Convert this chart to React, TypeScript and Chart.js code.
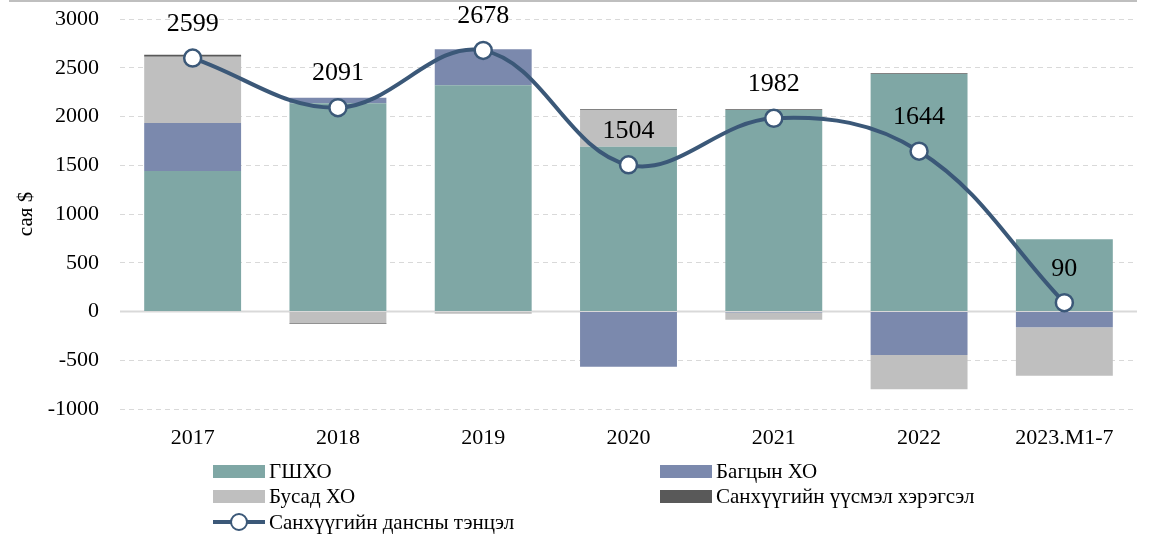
import React, { useEffect, useRef } from "react";
import { Chart, registerables } from "chart.js";

Chart.register(...registerables);

const categories = ["2017", "2018", "2019", "2020", "2021", "2022", "2023.M1-7"];
const fdi = [1441, 2135, 2320, 1690, 2067, 2436, 741];
const portfolio = [492, 58, 369, -566, -10, -446, -162];
const otherInv = [680, -121, -18, 377, -75, -352, -496];
const derivatives = [20, -6, -3, 8, 8, 8, 0];
const financialAccount = [2599, 2091, 2678, 1504, 1982, 1644, 90];
const yTicks = [-1000, -500, 0, 500, 1000, 1500, 2000, 2500, 3000];

const seriesNames = ["ГШХО", "Багцын ХО", "Бусад ХО", "Санхүүгийн үүсмэл хэрэгсэл", "Санхүүгийн дансны тэнцэл"];
const colors = ["#7fa7a5", "#7b89ad", "#bfbfbf", "#595959", "#3b5878"];

const FONT = "'Liberation Serif', 'Times New Roman', serif";

export default function App() {
  const ref = useRef<HTMLCanvasElement | null>(null);

  useEffect(() => {
    if (!ref.current) return;
    const labelPlugin = {
      id: "labelsAndZero",
      beforeDatasetsDraw(chart: any) {
        const { ctx, chartArea, scales } = chart;
        const y0 = scales.y.getPixelForValue(0);
        ctx.save();
        ctx.strokeStyle = "#d9d9d9";
        ctx.lineWidth = 2;
        ctx.beginPath();
        ctx.moveTo(chartArea.left, y0);
        ctx.lineTo(chartArea.right, y0);
        ctx.stroke();
        ctx.restore();
      },
      afterDatasetsDraw(chart: any) {
        const { ctx } = chart;
        const meta = chart.getDatasetMeta(4);
        ctx.save();
        ctx.font = `26px ${FONT}`;
        ctx.fillStyle = "#000";
        ctx.textAlign = "center";
        ctx.textBaseline = "middle";
        meta.data.forEach((pt: any, i: number) => {
          ctx.fillText(String(financialAccount[i]), pt.x, pt.y - 34);
        });
        ctx.restore();
      },
    };

    const barDs = (label: string, data: number[], color: string) => ({
      type: "bar" as const,
      label,
      data,
      backgroundColor: color,
      borderWidth: 0,
      stack: "bars",
      order: 1,
      categoryPercentage: 1,
      barPercentage: 0.667,
    });

    const chart = new Chart(ref.current, {
      data: {
        labels: categories,
        datasets: [
          barDs(seriesNames[0], fdi, colors[0]),
          barDs(seriesNames[1], portfolio, colors[1]),
          barDs(seriesNames[2], otherInv, colors[2]),
          barDs(seriesNames[3], derivatives, colors[3]),
          {
            type: "line" as const,
            label: seriesNames[4],
            data: financialAccount,
            borderColor: colors[4],
            borderWidth: 4,
            backgroundColor: "#ffffff",
            pointBackgroundColor: "#ffffff",
            pointBorderColor: colors[4],
            pointBorderWidth: 2.5,
            pointRadius: 8.5,
            tension: 0.38,
            stack: "line",
            order: 0,
          } as any,
        ],
      },
      options: {
        animation: false,
        responsive: false,
        maintainAspectRatio: false,
        layout: { autoPadding: false, padding: { top: 19, right: 12, left: 0, bottom: 90 } },
        plugins: {
          legend: { display: false },
          tooltip: { enabled: false },
        },
        scales: {
          x: {
            stacked: true,
            grid: { display: false, drawTicks: false },
            border: { display: false },
            ticks: { color: "#000", font: { family: FONT, size: 22 }, padding: 16, maxRotation: 0 },
            afterFit: (s: any) => { s.height = 38; },
          },
          y: {
            stacked: true,
            min: -1000,
            max: 3000,
            afterBuildTicks: (s: any) => { s.ticks = yTicks.map((v) => ({ value: v })); },
            grid: { color: "#d9d9d9", lineWidth: 1, drawTicks: false },
            border: { display: false, dash: [5, 4] },
            ticks: { color: "#000", font: { family: FONT, size: 22 }, padding: 21, callback: (v: any) => String(v) },
            title: { display: true, text: "сая $", color: "#000", font: { family: FONT, size: 21 }, padding: { top: 14, bottom: 0 } },
            afterFit: (s: any) => { s.width = 120; s.paddingTop = 0; s.paddingBottom = 0; },
          },
        },
      },
      plugins: [labelPlugin],
    } as any);
    return () => chart.destroy();
  }, []);

  const legendText: React.CSSProperties = { fontFamily: FONT, fontSize: 21, color: "#000", whiteSpace: "nowrap", lineHeight: "24px" };
  const item = (x: number, y: number, label: string, color: string, line = false) => (
    <div key={label} style={{ position: "absolute", left: x, top: y - 12, height: 24, display: "flex", alignItems: "center" }}>
      {line ? (
        <div style={{ position: "relative", width: 52, height: 24 }}>
          <div style={{ position: "absolute", left: 0, top: 10, width: 52, height: 4, background: color }} />
          <div style={{ position: "absolute", left: 17, top: 3, width: 14, height: 14, borderRadius: "50%", background: "#fff", border: `2.5px solid ${color}` }} />
        </div>
      ) : (
        <div style={{ width: 52, height: 13, background: color }} />
      )}
      <span style={{ ...legendText, marginLeft: 4 }}>{label}</span>
    </div>
  );

  return (
    <div style={{ position: "fixed", left: 0, top: 0, width: 1149, height: 537, background: "#fff" }}>
      <canvas ref={ref} width={1149} height={537} style={{ position: "absolute", left: 0, top: 0 }} />
      <div style={{ position: "absolute", left: 9, top: 0, width: 1128, height: 2, background: "#bfbfbf" }} />
      {item(213, 471, seriesNames[0], colors[0])}
      {item(660, 471, seriesNames[1], colors[1])}
      {item(213, 496, seriesNames[2], colors[2])}
      {item(660, 496, seriesNames[3], colors[3])}
      {item(213, 522, seriesNames[4], colors[4], true)}
    </div>
  );
}
